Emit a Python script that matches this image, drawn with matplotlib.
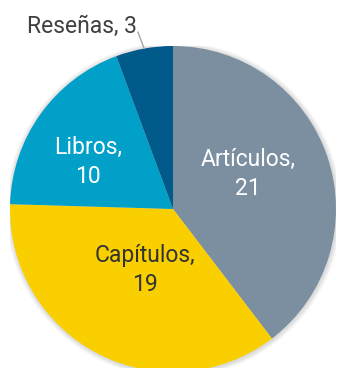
import numpy as np
import matplotlib
matplotlib.use("Agg")
import matplotlib.pyplot as plt
from matplotlib.patches import Circle

categories = ["Artículos", "Capítulos", "Libros", "Reseñas"]
values = [21, 19, 10, 3]
colors = ["#7b8fa0", "#f9cf00", "#00a0c8", "#005a8a"]
text_colors = ["white", "#333333", "white", "#404040"]

plt.rcParams["font.family"] = ["Roboto", "DejaVu Sans"]

W, H = 338, 368
fig = plt.figure(figsize=(W / 100, H / 100), dpi=100)
cx, cy, r = 173, 209, 163
ax = fig.add_axes([(cx - r) / W, (H - cy - r) / H, 2 * r / W, 2 * r / H])

# soft drop shadow behind the pie
for k in range(6):
    ax.add_patch(Circle((0.004, -0.004), 1.0 + 0.005 * (k + 1),
                        color="#000000", alpha=0.025, lw=0, zorder=0))

wedges, _ = ax.pie(values, colors=colors, startangle=90, counterclock=False,
                   radius=1.0, wedgeprops=dict(linewidth=0, zorder=1))
ax.set_xlim(-1, 1)
ax.set_ylim(-1, 1)
ax.set_aspect("equal")
ax.axis("off")

# label anchors inside the slices (axes data units)
inside = {"Artículos": (0.46, 0.215), "Capítulos": (-0.172, -0.374),
          "Libros": (-0.521, 0.288)}
for w, cat, val, tc in zip(wedges, categories, values, text_colors):
    if cat in inside:
        x, y = inside[cat]
        ax.text(x, y, f"{cat},\n{val}", ha="center", va="center", color=tc,
                fontsize=16.5, linespacing=1.35, zorder=3)
    else:
        mid = np.deg2rad((w.theta1 + w.theta2) / 2)
        ex, ey = np.cos(mid), np.sin(mid)
        ax.text(-0.22, 1.12, f"{cat}, {val}", ha="right", va="center",
                color=tc, fontsize=16.5, zorder=3)
        ax.plot([-0.215, ex], [1.085, ey], color="#a6a6a6", lw=1,
                clip_on=False, zorder=2)

fig.savefig("out.png", dpi=100)
